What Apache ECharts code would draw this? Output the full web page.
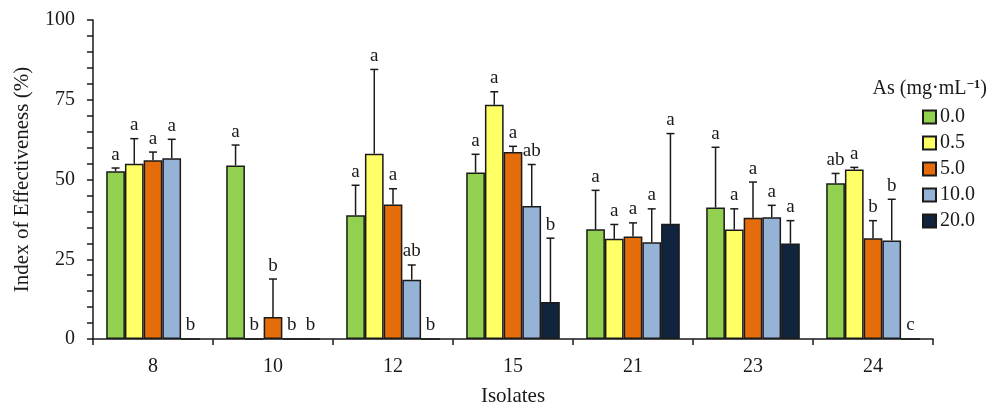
<!DOCTYPE html>
<html><head><meta charset="utf-8">
<script src="https://cdn.jsdelivr.net/npm/echarts@6/dist/echarts.min.js"></script>
<style>html,body{margin:0;padding:0;background:#fff}#c{width:996px;height:406px}</style>
</head><body><div id="c"></div>
<script>
const categories = ['8','10','12','15','21','23','24'];
const seriesNames = ['0.0','0.5','5.0','10.0','20.0'];
const v00  = [52.6, 54.4, 38.8, 52.2, 34.4, 41.2, 48.8];
const v05  = [54.9, 0,    58.1, 73.4, 31.4, 34.3, 53.1];
const v50  = [56.0, 6.9,  42.2, 58.6, 32.1, 38.0, 31.6];
const v100 = [56.7, 0,    18.6, 41.7, 30.3, 38.2, 30.9];
const v200 = [0,    0,    0,    11.6, 36.1, 29.9, 0];
const e00  = [1.0, 6.4, 9.4, 5.7, 12.2, 18.9, 3.1];
const e05  = [7.9, 0, 26.4, 4.1, 4.5, 6.5, 0.7];
const e50  = [2.6, 11.9, 4.9, 1.8, 4.3, 11.2, 5.5];
const e100 = [5.9, 0, 4.6, 13.0, 10.5, 3.7, 12.9];
const e200 = [0, 0, 0, 20.0, 28.3, 7.2, 0];
const l00  = ['a','a','a','a','a','a','ab'];
const l05  = ['a','b','a','a','a','a','a'];
const l50  = ['a','b','a','a','a','a','b'];
const l100 = ['a','b','ab','ab','a','a','b'];
const l200 = ['b','b','b','b','a','a','c'];
const yTicks = [0, 25, 50, 75, 100];

const values = [v00, v05, v50, v100, v200];
const errors = [e00, e05, e50, e100, e200];
const letters = [l00, l05, l50, l100, l200];
const colors = ['#92D050', '#FFFF66', '#E46C0A', '#95B3D7', '#10243E'];
const FONT = '"Liberation Serif", "Times New Roman", serif';
const GAP = 0.22;

const chart = echarts.init(document.getElementById('c'), null, {renderer: 'canvas'});

const series = [];
seriesNames.forEach((name, i) => {
  series.push({
    name: name, type: 'bar', data: values[i],
    barGap: '0%', barCategoryGap: (GAP * 100) + '%',
    itemStyle: {color: colors[i], borderColor: '#1a1a1a', borderWidth: 1.5},
    emphasis: {disabled: true}
  });
});
const errData = [];
for (let i = 0; i < seriesNames.length; i++) {
  for (let j = 0; j < categories.length; j++) {
    errData.push([j, values[i][j], errors[i][j], i, letters[i][j]]);
  }
}
series.push({
  type: 'custom', name: 'err', data: errData, z: 10,
  encode: {x: 0, y: 1},
  renderItem: function (params, api) {
    const j = api.value(0), v = api.value(1), e = api.value(2), si = api.value(3);
    const lab = errData[params.dataIndex][4];
    const band = api.size([1, 0])[0];
    const bw = band * (1 - GAP) / seriesNames.length;
    const c = api.coord([j, v]);
    const x = c[0] + (si - (seriesNames.length - 1) / 2) * bw;
    const yTop = api.coord([j, v + e])[1];
    const children = [];
    if (e > 0) {
      children.push({type: 'line', shape: {x1: x, y1: c[1], x2: x, y2: yTop}, style: {stroke: '#1a1a1a', lineWidth: 1.5}});
      children.push({type: 'line', shape: {x1: x - 4, y1: yTop, x2: x + 4, y2: yTop}, style: {stroke: '#1a1a1a', lineWidth: 1.5}});
    }
    children.push({type: 'text', x: x, y: yTop - 4, style: {text: lab, fill: '#1a1a1a', font: '19px ' + FONT, align: 'center', verticalAlign: 'bottom'}});
    return {type: 'group', children: children};
  }
});

chart.setOption({
  animation: false,
  backgroundColor: '#fff',
  textStyle: {fontFamily: FONT},
  title: {
    text: '{n|As (mg·mL}{s|−1}{n|)}',
    right: 4, top: 73,
    textStyle: {rich: {
      n: {fontFamily: FONT, fontSize: 20, color: '#1a1a1a', fontWeight: 'normal'},
      s: {fontFamily: FONT, fontSize: 13, color: '#1a1a1a', padding: [0, 0, 9, 0]}
    }}
  },
  legend: {
    orient: 'vertical', left: 917, top: 102,
    data: seriesNames, icon: 'rect',
    itemWidth: 13, itemHeight: 13, itemGap: 6,
    textStyle: {fontFamily: FONT, fontSize: 20, color: '#1a1a1a', padding: [0, 0, 0, -1]},
    selectedMode: false
  },
  grid: {left: 93, right: 63, top: 20, bottom: 67, containLabel: false, outerBoundsMode: 'none'},
  xAxis: {
    type: 'category', data: categories,
    name: 'Isolates', nameLocation: 'middle', nameGap: 47,
    nameTextStyle: {fontFamily: FONT, fontSize: 21, color: '#1a1a1a'},
    axisLine: {lineStyle: {color: '#1a1a1a', width: 1.5}},
    axisTick: {show: true, length: 6, lineStyle: {color: '#1a1a1a', width: 1.5}},
    axisLabel: {fontFamily: FONT, fontSize: 20, color: '#1a1a1a', margin: 18}
  },
  yAxis: {
    type: 'value', min: yTicks[0], max: yTicks[yTicks.length - 1], interval: 25,
    name: 'Index of Effectiveness (%)', nameLocation: 'middle', nameGap: 60,
    nameTextStyle: {fontFamily: FONT, fontSize: 21, color: '#1a1a1a'},
    axisLine: {show: true, lineStyle: {color: '#1a1a1a', width: 1.5}},
    axisTick: {show: true, length: 6, lineStyle: {color: '#1a1a1a', width: 1.5}},
    minorTick: {show: true, splitNumber: 5, length: 6, lineStyle: {color: '#1a1a1a', width: 1.5}},
    splitLine: {show: false},
    axisLabel: {fontFamily: FONT, fontSize: 20, color: '#1a1a1a', margin: 18}
  },
  series: series
});
</script></body></html>
